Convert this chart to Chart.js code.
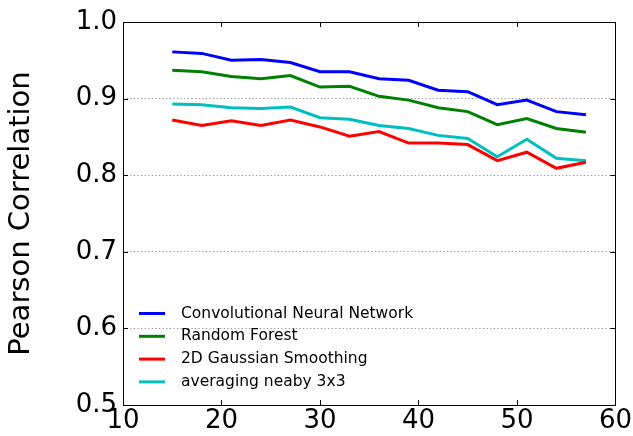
<!DOCTYPE html>
<html>
<head>
<meta charset="utf-8">
<script src="https://cdn.jsdelivr.net/npm/chart.js@4.4.0/dist/chart.umd.min.js"></script>
<style>
  html, body { margin: 0; padding: 0; background: #fff; }
  #wrap { width: 633px; height: 436px; }
</style>
</head>
<body>
<div id="wrap"><canvas id="grafico" width="633" height="436"></canvas></div>
<script>
// dados
const janelas = [15, 18, 21, 24, 27, 30, 33, 36, 39, 42, 45, 48, 51, 54, 57];
const cnn = [0.961, 0.959, 0.950, 0.951, 0.947, 0.935, 0.935, 0.926, 0.924, 0.911, 0.909, 0.892, 0.898, 0.883, 0.879];
const randomForest = [0.937, 0.935, 0.929, 0.926, 0.930, 0.915, 0.916, 0.903, 0.898, 0.888, 0.883, 0.866, 0.874, 0.861, 0.856];
const gaussiano = [0.872, 0.865, 0.871, 0.865, 0.872, 0.863, 0.851, 0.857, 0.842, 0.842, 0.840, 0.819, 0.830, 0.809, 0.817];
const media3x3 = [0.893, 0.892, 0.888, 0.887, 0.889, 0.875, 0.873, 0.865, 0.861, 0.852, 0.848, 0.824, 0.847, 0.822, 0.819];
const nomes = ['Convolutional Neural Network', 'Random Forest', '2D Gaussian Smoothing', 'averaging neaby 3x3'];
const cores = ['#0000ff', '#008000', '#ff0000', '#00bfbf'];
const ticksX = [10, 20, 30, 40, 50, 60];
const ticksY = [0.5, 0.6, 0.7, 0.8, 0.9, 1.0];

const FONTE = '"DejaVu Sans", sans-serif';

function pontos(valores) {
    return janelas.map((x, i) => ({ x: x, y: valores[i] }));
}

// moldura com ticks para dentro (estilo matplotlib)
const moldura = {
    id: 'moldura',
    afterDatasetsDraw(chart) {
        const ctx = chart.ctx;
        const a = chart.chartArea;
        const sx = chart.scales.x;
        const sy = chart.scales.y;
        const t = 5;
        ctx.save();
        ctx.strokeStyle = '#000';
        ctx.lineWidth = 1;
        ctx.beginPath();
        ticksX.forEach(v => {
            const px = Math.round(sx.getPixelForValue(v)) + 0.5;
            ctx.moveTo(px, a.bottom); ctx.lineTo(px, a.bottom - t);
            ctx.moveTo(px, a.top); ctx.lineTo(px, a.top + t);
        });
        ticksY.forEach(v => {
            const py = Math.round(sy.getPixelForValue(v)) + 0.5;
            ctx.moveTo(a.left, py); ctx.lineTo(a.left + t, py);
            ctx.moveTo(a.right, py); ctx.lineTo(a.right - t, py);
        });
        ctx.stroke();
        ctx.strokeRect(Math.round(a.left) + 0.5, Math.round(a.top) + 0.5,
            Math.round(a.right - a.left), Math.round(a.bottom - a.top));
        ctx.restore();
    }
};

// legenda dentro da área do gráfico, sem caixa
const legendaInterna = {
    id: 'legendaInterna',
    afterDatasetsDraw(chart) {
        const ctx = chart.ctx;
        const a = chart.chartArea;
        ctx.save();
        ctx.font = '15.5px ' + FONTE;
        ctx.textBaseline = 'middle';
        ctx.fillStyle = '#000';
        chart.data.datasets.forEach((ds, i) => {
            const y = a.top + 291.5 + i * 22.8;
            ctx.strokeStyle = ds.borderColor;
            ctx.lineWidth = 3;
            ctx.beginPath();
            ctx.moveTo(a.left + 16, y);
            ctx.lineTo(a.left + 42, y);
            ctx.stroke();
            ctx.fillText(ds.label, a.left + 58, y);
        });
        ctx.restore();
    }
};

const series = [cnn, randomForest, gaussiano, media3x3];

new Chart(document.getElementById('grafico').getContext('2d'), {
    type: 'line',
    data: {
        datasets: series.map((s, i) => ({
            label: nomes[i],
            data: pontos(s),
            borderColor: cores[i],
            borderWidth: 3,
            pointRadius: 0,
            fill: false,
            tension: 0
        }))
    },
    options: {
        responsive: false,
        animation: false,
        layout: { padding: { top: 22, right: 16, left: 0, bottom: 0 } },
        plugins: {
            legend: { display: false },
            tooltip: { enabled: false }
        },
        scales: {
            x: {
                type: 'linear',
                min: 10,
                max: 60,
                afterBuildTicks(scale) { scale.ticks = ticksX.map(v => ({ value: v })); },
                afterFit(scale) { scale.height = 31; },
                grid: { display: false, drawTicks: false },
                border: { display: false },
                ticks: { color: '#000', padding: 1, maxRotation: 0, font: { family: FONTE, size: 26 } }
            },
            y: {
                min: 0.5,
                max: 1.0,
                afterBuildTicks(scale) { scale.ticks = ticksY.map(v => ({ value: v })); },
                afterFit(scale) { scale.width = 123; },
                grid: { color: 'rgba(0,0,0,0.55)', lineWidth: 0.8, drawTicks: false },
                border: { display: false, dash: [1.2, 2.4] },
                ticks: {
                    color: '#000', padding: 6,
                    font: { family: FONTE, size: 26 },
                    callback: v => v.toFixed(1)
                },
                title: {
                    display: true,
                    text: 'Pearson Correlation',
                    color: '#000',
                    padding: { top: 4, bottom: 0 },
                    font: { family: FONTE, size: 29 }
                }
            }
        }
    },
    plugins: [moldura, legendaInterna]
});
</script>
</body>
</html>
